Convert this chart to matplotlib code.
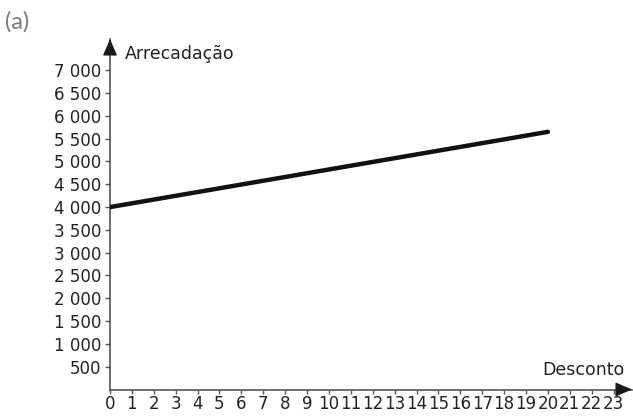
import matplotlib
matplotlib.use('Agg')
import matplotlib.pyplot as plt

# data
desconto = [0, 20]
arrecadacao = [4000, 5650]
x_ticks = list(range(0, 24))
y_ticks = list(range(500, 7001, 500))
y_labels = ['{:,}'.format(v).replace(',', ' ') for v in y_ticks]

axis_col = '#555555'

fig = plt.figure(figsize=(6.33, 4.16), dpi=100)
ax = fig.add_axes([110 / 633, 26.5 / 416, 522 / 633, 350.5 / 416])
ax.set_xlim(0, 23.84)
ax.set_ylim(0, 7686)

for s in ax.spines.values():
    s.set_visible(False)

# axis lines
ax.plot([0, 1], [0, 0], transform=ax.transAxes, color=axis_col, lw=1.2,
        clip_on=False, zorder=1)
ax.plot([0, 0], [0, 1], transform=ax.transAxes, color=axis_col, lw=1.2,
        clip_on=False, zorder=1)
# arrow heads
for tip, tail in [((1, 0), (0.97, 0)), ((0, 1), (0, 0.96))]:
    ax.annotate('', xy=tip, xytext=tail, xycoords='axes fraction',
                arrowprops=dict(arrowstyle='-|>,head_length=0.7,head_width=0.3',
                                color='#1a1a1a', lw=0.8, shrinkA=0, shrinkB=0,
                                mutation_scale=15), zorder=2)

ax.plot(desconto, arrecadacao, color='#111111', lw=3.2,
        solid_capstyle='round', zorder=3)

ax.set_xticks(x_ticks)
ax.set_xticklabels([str(v) for v in x_ticks])
ax.set_yticks(y_ticks)
ax.set_yticklabels(y_labels)
ax.tick_params(axis='both', direction='out', length=3.5, width=1.0,
               color=axis_col, labelsize=12, labelcolor='#222222', pad=3)
ax.tick_params(axis='x', length=3, pad=1)

ax.text(0.68, 7248, 'Arrecadação', fontsize=12.5, color='#222222',
        ha='left', va='baseline')
ax.text(23.52, 318, 'Desconto', fontsize=12.5, color='#222222',
        ha='right', va='baseline')

fig.text(5 / 633, 1 - 22 / 416, '(a)', fontsize=17, color='#7a7a7a',
         family='Lato', ha='left', va='center')

fig.savefig('out.png', dpi=100)
